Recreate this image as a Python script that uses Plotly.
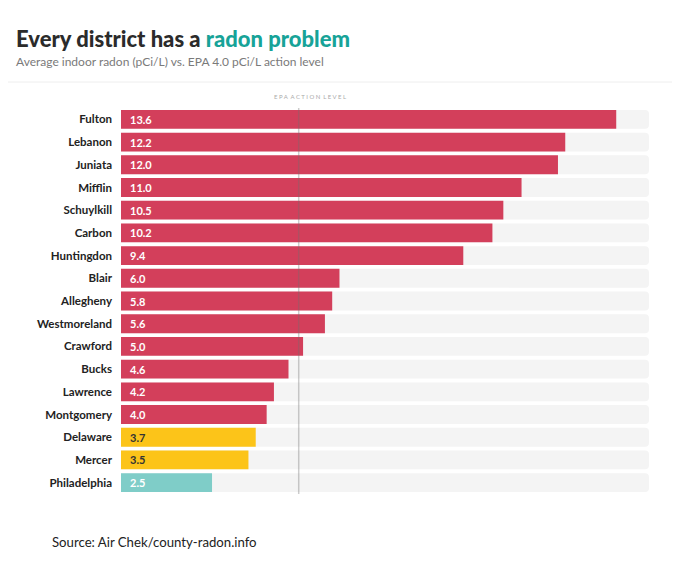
import plotly.graph_objects as go

districts = ["Fulton", "Lebanon", "Juniata", "Mifflin", "Schuylkill", "Carbon",
             "Huntingdon", "Blair", "Allegheny", "Westmoreland", "Crawford",
             "Bucks", "Lawrence", "Montgomery", "Delaware", "Mercer", "Philadelphia"]
radon = [13.6, 12.2, 12.0, 11.0, 10.5, 10.2, 9.4, 6.0, 5.8, 5.6, 5.0,
         4.6, 4.2, 4.0, 3.7, 3.5, 2.5]

x_max = 14.5
epa_marker = 4.88   # where the reference draws its action-level line

RED = "#d33f5b"
YELLOW = "#fcc419"
TEAL = "#7fcdc8"
TRACK = "#f4f4f4"

# the page body adds an 8px offset, so everything is laid out 8px up/left
OFF = 8
L, R, T, B = 121 - OFF, 31 + OFF, 108 - OFF, 76 + OFF
PW, PH = 680 - L - R, 570 - T - B


def bar_color(v):
    if v >= 4.0:
        return RED
    if v >= 3.0:
        return YELLOW
    return TEAL


colors = [bar_color(v) for v in radon]
text_colors = ["#333333" if c == YELLOW else "white" for c in colors]

fig = go.Figure()
fig.add_trace(go.Bar(y=districts, x=[x_max] * len(districts), orientation="h",
                     marker=dict(color=TRACK, line=dict(width=0)),
                     hoverinfo="skip", width=0.83))
fig.add_trace(go.Bar(y=districts, x=radon, orientation="h",
                     marker=dict(color=colors, line=dict(width=0)),
                     width=0.83))

for d, v, tc in zip(districts, radon, text_colors):
    fig.add_annotation(x=0, y=d, text=f"<b>{v:.1f}</b>", showarrow=False,
                       xanchor="left", xshift=7,
                       font=dict(family="Lato", size=11, color=tc))

# EPA action level line
fig.add_shape(type="line", x0=epa_marker, x1=epa_marker, y0=0, y1=1,
              xref="x", yref="paper", layer="above",
              line=dict(color="rgba(110,110,110,0.35)", width=1.5))
fig.add_annotation(x=epa_marker, y=1, xref="x", yref="paper", yanchor="bottom",
                   xshift=11, yshift=6, showarrow=False,
                   text="E P A  A C T I O N  L E V E L",
                   font=dict(family="Lato", size=6, color="#aaaaaa"))

# separator under the header
fig.add_shape(type="line", x0=-L / PW, x1=1 + R / PW, xref="paper", yref="paper",
              y0=1 + 26 / PH, y1=1 + 26 / PH, line=dict(color="#eeeeee", width=1))

fig.add_annotation(xref="paper", yref="paper", x=-(L - 14 + OFF) / PW, y=1 + 70 / PH,
                   xanchor="left", yanchor="middle", showarrow=False,
                   text="Every district has a <span style='color:#17a398'>radon problem</span>",
                   font=dict(family="Lato", size=22, color="#2b2b2b", weight=900))
fig.add_annotation(xref="paper", yref="paper", x=-(L - 14 + OFF) / PW, y=1 + 47 / PH,
                   xanchor="left", yanchor="middle", showarrow=False,
                   text="Average indoor radon (pCi/L) vs. EPA 4.0 pCi/L action level",
                   font=dict(family="Lato", size=12, color="#7a7a7a"))
fig.add_annotation(xref="paper", yref="paper", x=-(L - 50 + OFF) / PW, y=-48 / PH,
                   xanchor="left", yanchor="middle", showarrow=False,
                   text="Source: Air Chek/county-radon.info",
                   font=dict(family="Lato", size=13.2, color="#222222"))

fig.update_layout(
    width=680, height=570,
    barmode="overlay", barcornerradius=4,
    showlegend=False,
    paper_bgcolor="white", plot_bgcolor="white",
    margin=dict(l=L, r=R, t=T, b=B, autoexpand=False),
    font=dict(family="Lato", color="#222222"),
    xaxis=dict(range=[0, x_max], visible=False, fixedrange=True),
    yaxis=dict(autorange="reversed", showgrid=False, zeroline=False,
               ticks="", ticklabelstandoff=8, fixedrange=True,
               tickfont=dict(family="Lato", size=11.5, color="#222222", weight="bold")),
)

fig.write_html("out.html")
